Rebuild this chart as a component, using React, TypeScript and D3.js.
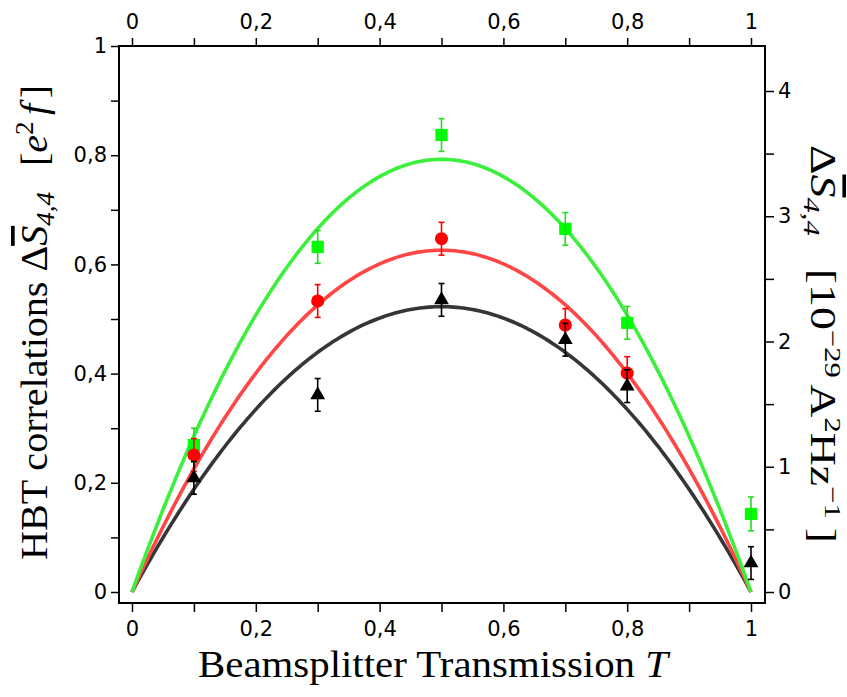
import React, { useEffect, useRef } from "react";
import * as d3 from "d3";

// ---- data ----
const greenT = [0.1, 0.3, 0.5, 0.7, 0.8, 1.0];
const greenValues = [0.269, 0.632, 0.837, 0.665, 0.493, 0.143];
const greenErrors = [0.031, 0.03, 0.03, 0.03, 0.03, 0.031];

const redT = [0.1, 0.3, 0.5, 0.7, 0.8];
const redValues = [0.251, 0.533, 0.647, 0.489, 0.401];
const redErrors = [0.03, 0.03, 0.03, 0.03, 0.03];

const blackT = [0.1, 0.3, 0.5, 0.7, 0.8, 1.0];
const blackValues = [0.209, 0.361, 0.535, 0.462, 0.377, 0.053];
const blackErrors = [0.03, 0.03, 0.03, 0.03, 0.03, 0.03];

// fitted peak heights (at T = 0.5) of the T(1-T) model curves
const fitNames = ["black", "red", "green"];
const fitPeaks = [0.5226, 0.626, 0.7925];

const xMajorTicks = [0, 0.2, 0.4, 0.6, 0.8, 1];
const xMinorTicks = [0.1, 0.3, 0.5, 0.7, 0.9];
const yMajorTicks = [0, 0.2, 0.4, 0.6, 0.8, 1];
const yMinorTicks = [0.1, 0.3, 0.5, 0.7, 0.9];
const rightMajorTicks = [0, 1, 2, 3, 4];
const rightMinorTicks = [0.5, 1.5, 2.5, 3.5];

const W = 847;
const H = 697;

const fmt = (d: number) => String(d).replace(".", ",");

export default function App() {
  const ref = useRef<SVGSVGElement | null>(null);

  useEffect(() => {
    const svg = d3.select(ref.current).select("g.plot");
    svg.selectAll("*").remove();

    const frame = { l: 119, r: 765, t: 46, b: 603 };
    const x = d3.scaleLinear().domain([0, 1]).range([132, 751]);
    const y = d3.scaleLinear().domain([0, 1]).range([592, 46]);
    const yR = d3.scaleLinear().domain([0, 4]).range([592, 91]);

    const tickFont = "'DejaVu Sans', sans-serif";
    const styleAxis = (g: any) => {
      g.select(".domain").remove();
      g.selectAll(".tick line").attr("stroke", "#000").attr("stroke-width", 1.5);
      g.selectAll(".tick text")
        .attr("fill", "#000")
        .attr("font-family", tickFont)
        .attr("font-size", 21);
    };

    const allX = [...xMajorTicks, ...xMinorTicks];
    const allY = [...yMajorTicks, ...yMinorTicks];
    const allR = [...rightMajorTicks, ...rightMinorTicks];

    // bottom
    svg.append("g")
      .attr("transform", `translate(0,${frame.b})`)
      .call(
        d3.axisBottom(x).tickValues(allX).tickSize(9).tickPadding(9)
          .tickFormat((d: any) => (xMajorTicks.includes(d) ? fmt(d) : ""))
      )
      .call(styleAxis);
    // top
    svg.append("g")
      .attr("transform", `translate(0,${frame.t})`)
      .call(
        d3.axisTop(x).tickValues(allX).tickSize(8).tickPadding(9)
          .tickFormat((d: any) => (xMajorTicks.includes(d) ? fmt(d) : ""))
      )
      .call(styleAxis);
    // left
    svg.append("g")
      .attr("transform", `translate(${frame.l},0)`)
      .call(
        d3.axisLeft(y).tickValues(allY).tickSize(8).tickPadding(4)
          .tickFormat((d: any) => (yMajorTicks.includes(d) ? fmt(d) : ""))
      )
      .call(styleAxis);
    // right
    svg.append("g")
      .attr("transform", `translate(${frame.r},0)`)
      .call(
        d3.axisRight(yR).tickValues(allR).tickSize(9).tickPadding(4)
          .tickFormat((d: any) => (rightMajorTicks.includes(d) ? fmt(d) : ""))
      )
      .call(styleAxis);

    // frame
    svg.append("rect")
      .attr("x", frame.l).attr("y", frame.t)
      .attr("width", frame.r - frame.l).attr("height", frame.b - frame.t)
      .attr("fill", "none").attr("stroke", "#000").attr("stroke-width", 2);

    // fit curves
    const lineColors: Record<string, string> = {
      black: "#363636",
      red: "#ff4646",
      green: "#3def3d",
    };
    const samples = d3.range(0, 1.00001, 0.005);
    const line = d3.line<number[]>().x((d) => x(d[0])).y((d) => y(d[1]));
    fitNames.forEach((name, i) => {
      const a = fitPeaks[i];
      const pts = samples.map((t) => [t, 4 * a * t * (1 - t)]);
      svg.append("path")
        .attr("d", line(pts))
        .attr("fill", "none")
        .attr("stroke", lineColors[name])
        .attr("stroke-width", 3.6);
    });

    // data series
    const series = [
      { t: greenT, v: greenValues, e: greenErrors, color: "#00ff00", bar: "#22dd22", sym: d3.symbolSquare, size: 150 },
      { t: redT, v: redValues, e: redErrors, color: "#ff0000", bar: "#ff0000", sym: d3.symbolCircle, size: 135 },
      { t: blackT, v: blackValues, e: blackErrors, color: "#000000", bar: "#000000", sym: d3.symbolTriangle, size: 95 },
    ];
    series.forEach((s) => {
      const g = svg.append("g");
      const sym = d3.symbol().type(s.sym).size(s.size);
      s.t.forEach((t, i) => {
        const cx = x(t);
        const cy = y(s.v[i]);
        g.append("path")
          .attr("d", sym() as string)
          .attr("transform", `translate(${cx},${cy})`)
          .attr("fill", s.color);
        const y1 = y(s.v[i] + s.e[i]);
        const y2 = y(s.v[i] - s.e[i]);
        g.append("line").attr("x1", cx).attr("x2", cx).attr("y1", y1).attr("y2", y2)
          .attr("stroke", s.bar).attr("stroke-width", 1.6);
        [y1, y2].forEach((yy) => {
          g.append("line").attr("x1", cx - 3).attr("x2", cx + 3).attr("y1", yy).attr("y2", yy)
            .attr("stroke", s.bar).attr("stroke-width", 1.6);
        });
      });
    });
  }, []);

  const serif = "'Liberation Serif', 'DejaVu Serif', serif";
  return (
    <svg ref={ref} width={W} height={H} style={{ display: "block", position: "absolute", left: 0, top: 0, background: "#fff" }}>
      <g className="plot" />
      {/* bottom title */}
      <text x={198} y={677} fontFamily={serif} fontSize={38} fill="#000" textLength={470} lengthAdjust="spacingAndGlyphs">
        Beamsplitter Transmission <tspan fontStyle="italic">T</tspan>
      </text>
      {/* left title */}
      <text transform="translate(47,560) rotate(-90)" fontFamily={serif} fontSize={37} fill="#000" textLength={475} lengthAdjust="spacingAndGlyphs">
        HBT correlations Δ
        <tspan fontStyle="italic" textDecoration="overline">S</tspan>
        <tspan fontStyle="italic" fontSize={25} dy={7}>4,4</tspan>
        <tspan dy={-7} dx={24}>[</tspan>
        <tspan fontStyle="italic">e</tspan>
        <tspan fontSize={25} dy={-14}>2</tspan>
        <tspan fontStyle="italic" dy={14} dx={6}>f</tspan>
        <tspan dx={5}>]</tspan>
      </text>
      {/* right title */}
      <text transform="translate(811,145) rotate(90)" fontFamily={serif} fontSize={36} fill="#000" textLength={398} lengthAdjust="spacingAndGlyphs">
        Δ
        <tspan fontStyle="italic" textDecoration="overline">S</tspan>
        <tspan fontStyle="italic" fontSize={24} dy={7}>4,4</tspan>
        <tspan dy={-7} dx={26}>[10</tspan>
        <tspan fontSize={24} dy={-14}>−29</tspan>
        <tspan dy={14} dx={5}>A</tspan>
        <tspan fontSize={24} dy={-14}>2</tspan>
        <tspan dy={14}>Hz</tspan>
        <tspan fontSize={24} dy={-14}>−1</tspan>
        <tspan dy={14} dx={7}>]</tspan>
      </text>
    </svg>
  );
}
